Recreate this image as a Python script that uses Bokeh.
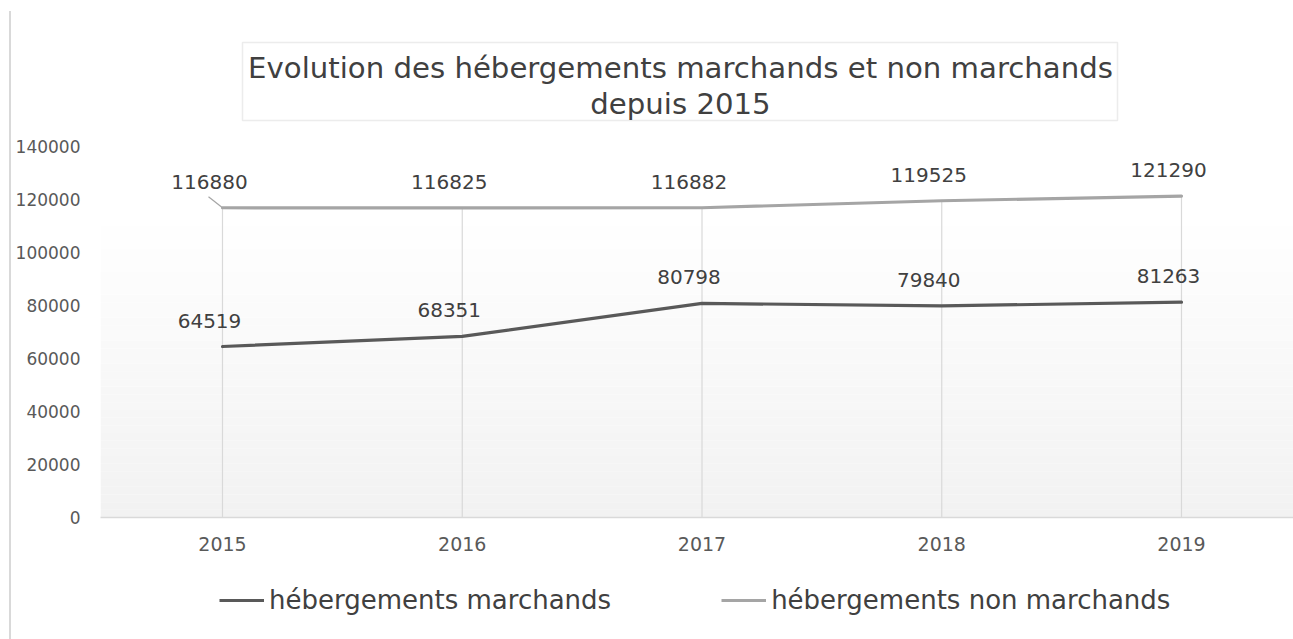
from bokeh.plotting import figure
from bokeh.models import (Range1d, FixedTicker, BoxAnnotation, Label, Legend, LegendItem,
                          ColumnDataSource, BasicTickFormatter, Spacer)
from bokeh.layouts import row, column
from bokeh.core.properties import value
from bokeh.embed import file_html
from bokeh.resources import INLINE

years = [2015, 2016, 2017, 2018, 2019]
marchands = [64519, 68351, 80798, 79840, 81263]
non_marchands = [116880, 116825, 116882, 119525, 121290]
y_ticks = [0, 20000, 40000, 60000, 80000, 100000, 120000, 140000]
title_lines = ["Evolution des hébergements marchands et non marchands", "depuis 2015"]
series_names = ["hébergements marchands", "hébergements non marchands"]
series_colors = ["#595959", "#a5a5a5"]

FONT = "DejaVu Sans"
OFF = 11                    # canvas starts after the left border strip
W = 1293 - OFF
H_MAIN, H_LEG = 561, 78
FL, FB = 100 - OFF, 517     # frame left, frame bottom (canvas px)
px_per_year = 239.75
px_per_unit = 2.65 / 1000.0

x_start = years[0] - (222 - 100) / px_per_year
x_end = years[-1] + (1293 - 1181) / px_per_year
y_end = FB / px_per_unit

p = figure(width=W, height=H_MAIN, output_backend="svg", toolbar_location=None,
           x_range=Range1d(x_start, x_end), y_range=Range1d(0, y_end),
           min_border_left=FL, min_border_right=0, min_border_top=0,
           min_border_bottom=H_MAIN - FB)
p.outline_line_color = None
p.background_fill_color = "white"
p.border_fill_color = "white"
p.xgrid.grid_line_color = None
p.ygrid.grid_line_color = None

# gradient plot-area background (white at top -> light gray at bottom)
grad_top = 116000
n = 40
for i in range(n):
    t = i / (n - 1)
    c = int(round(242 + (255 - 242) * t))
    p.add_layout(BoxAnnotation(bottom=grad_top * i / n, top=grad_top * (i + 1) / n,
                               fill_color=(c, c, c), fill_alpha=1, line_color=None,
                               level="underlay"))

# drop lines
p.segment(x0=years, y0=[0] * len(years), x1=years,
          y1=[max(a, b) for a, b in zip(marchands, non_marchands)],
          line_color="#d9d9d9", line_width=1.2)

# axes
p.xaxis.ticker = FixedTicker(ticks=years)
p.xaxis.axis_line_color = "#d9d9d9"
p.xaxis.axis_line_width = 1.5
p.xaxis.major_tick_line_color = None
p.xaxis.minor_tick_line_color = None
p.xaxis.major_tick_out = 0
p.xaxis.major_tick_in = 0
p.xaxis.minor_tick_out = 0
p.xaxis.major_label_text_font = FONT
p.xaxis.major_label_text_font_size = "19px"
p.xaxis.major_label_text_color = "#595959"
p.xaxis.major_label_standoff = 19

p.yaxis.ticker = FixedTicker(ticks=y_ticks)
p.yaxis.formatter = BasicTickFormatter(use_scientific=False)
p.yaxis.axis_line_color = None
p.yaxis.major_tick_line_color = None
p.yaxis.minor_tick_line_color = None
p.yaxis.major_tick_out = 0
p.yaxis.major_tick_in = 0
p.yaxis.minor_tick_out = 0
p.yaxis.major_label_text_font = FONT
p.yaxis.major_label_text_font_size = "17px"
p.yaxis.major_label_text_color = "#595959"
p.yaxis.major_label_standoff = 20

# lines
p.line(years, marchands, line_color=series_colors[0], line_width=3.2, line_cap="round")
p.line(years, non_marchands, line_color=series_colors[1], line_width=3.2, line_cap="round")

# data labels
src = ColumnDataSource(dict(x=years + years, y=marchands + non_marchands,
                            t=[str(v) for v in marchands + non_marchands]))
p.text(x="x", y="y", text="t", source=src, text_font=value(FONT), text_font_size="20px",
       text_color="#404040", text_align="center", text_baseline="middle",
       x_offset=-13, y_offset=-26)

# leader line for first label
p.segment(x0=[years[0] - 14 / px_per_year], y0=[non_marchands[0] + 11 / px_per_unit],
          x1=[years[0]], y1=[non_marchands[0]], line_color="#a5a5a5", line_width=1.2)

# title box
p.add_layout(BoxAnnotation(left=242 - OFF, right=1117 - OFF, top=42, bottom=120,
                           left_units="canvas", right_units="canvas",
                           top_units="canvas", bottom_units="canvas",
                           fill_color="white", fill_alpha=0, line_color="#bfbfbf",
                           line_width=1.5))
for i, line in enumerate(title_lines):
    p.add_layout(Label(x=680 - OFF, y=67 + 36 * i, x_units="canvas", y_units="canvas",
                       text=line, text_font=FONT, text_font_size="29.2px",
                       text_color="#404040", text_align="center",
                       text_baseline="middle"))

# legend strip below the chart (series re-plotted outside its visible range)
pl = figure(width=W, height=H_LEG, output_backend="svg", toolbar_location=None,
            x_range=Range1d(0, 1), y_range=Range1d(0, 1),
            x_axis_type=None, y_axis_type=None,
            min_border_left=0, min_border_right=0, min_border_top=0, min_border_bottom=0)
pl.outline_line_color = None
pl.xgrid.grid_line_color = None
pl.ygrid.grid_line_color = None
lr = [pl.line(years, s, line_color=c, line_width=3.2)
      for s, c in zip([marchands, non_marchands], series_colors)]
legend = Legend(items=[LegendItem(label=nm, renderers=[r]) for nm, r in zip(series_names, lr)],
                orientation="horizontal", location=(119, 24),
                glyph_width=45, label_standoff=5, spacing=110,
                label_text_font=FONT, label_text_font_size="26px",
                label_text_color="#404040", border_line_color=None,
                background_fill_alpha=0, margin=0, padding=5)
pl.add_layout(legend, "center")

strip = Spacer(width=2, height=H_MAIN + H_LEG - OFF, margin=(OFF, 0, 0, 9),
               styles={"background-color": "#d9d9d9"})
layout = row(strip, column(p, pl, spacing=0), spacing=0)

open("out.html", "w").write(file_html(layout, INLINE))
